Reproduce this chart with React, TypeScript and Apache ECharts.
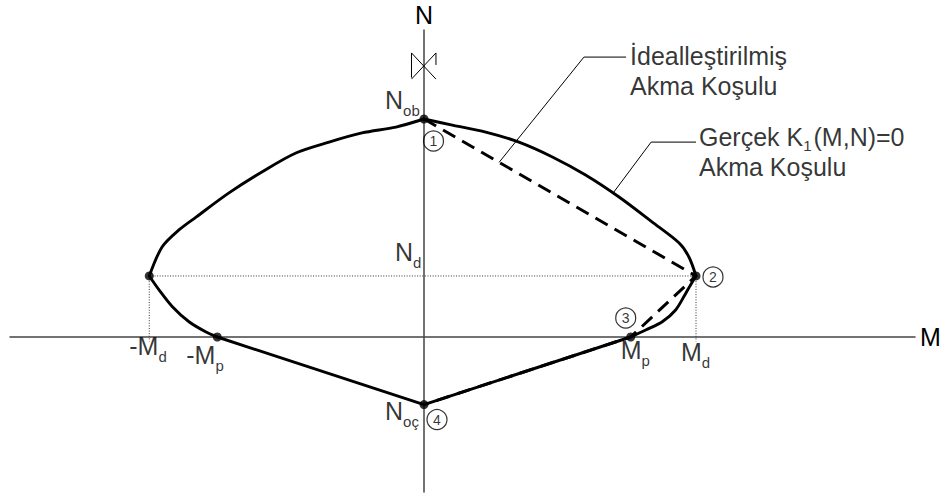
import { useEffect, useRef } from 'react';
import * as echarts from 'echarts';

// M–N yield diagram, normalised so that M_d = 1 and N_ob = 1.
const N_OB = 1.0;
const N_D = 0.28;
const N_OC = -0.31;
const M_D = 1.0;
const M_D_NEG = -1.01;
const M_P = 0.76;
const M_P_NEG = -0.76;

// Actual yield curve K1(M,N)=0, drawn piece by piece
const curveUpperRight = [
  [0, 1.0], [0.104, 0.972], [0.227, 0.94], [0.349, 0.894], [0.472, 0.826], [0.594, 0.743],
  [0.717, 0.642], [0.838, 0.528], [0.938, 0.431], [0.974, 0.367], [1.0, 0.28],
];
const curveLowerRight = [
  [1.0, 0.28], [0.98, 0.239], [0.962, 0.2], [0.925, 0.124], [0.876, 0.07], [0.815, 0.032], [0.76, 0],
];
const curveBottom = [[0.76, 0], [0, -0.31], [-0.76, 0]];
const curveLowerLeft = [
  [-0.76, 0], [-0.803, 0.024], [-0.864, 0.07], [-0.925, 0.139], [-0.974, 0.216], [-1.01, 0.28],
];
const curveUpperLeft = [
  [-1.01, 0.28], [-0.963, 0.413], [-0.901, 0.491], [-0.838, 0.55], [-0.717, 0.661], [-0.596, 0.757],
  [-0.471, 0.844], [-0.349, 0.894], [-0.228, 0.936], [-0.103, 0.963], [0, 1.0],
];

// Idealised (piecewise linear) yield condition through stages 1-2-3-4
const idealised = [[0, N_OB], [M_D, N_D], [M_P, 0], [0, N_OC]];

// Characteristic points
const keyPoints = [[0, N_OB], [M_D, N_D], [M_D_NEG, N_D], [M_P_NEG, 0], [M_P, 0], [0, N_OC]];

// Reference (dotted) lines for N_d and ±M_d
const guideLines = [
  [[M_D_NEG, N_D], [M_D, N_D]],
  [[M_D_NEG, N_D], [M_D_NEG, -0.02]],
  [[M_D, N_D], [M_D, -0.02]],
];

// Leader lines for the two callouts
const leaderIdeal = [[0.276, 0.801], [0.588, 1.284], [0.743, 1.284]];
const leaderActual = [[0.695, 0.66], [0.835, 0.894], [1.0, 0.894]];

// Small glyph on the N axis
const axisGlyph = [
  [[-0.046, 1.19], [-0.046, 1.303], [0.044, 1.183]],
  [[-0.046, 1.183], [0.044, 1.303], [0.044, 1.248]],
];

// Point labels: main text + subscript
const pointLabels = [
  { at: [0, N_OB], main: 'N', sub: 'ob', offset: [-39, -32] },
  { at: [0, N_D], main: 'N', sub: 'd', offset: [-29, -36] },
  { at: [M_D_NEG, 0], main: '-M', sub: 'd', offset: [-20, -4] },
  { at: [M_P_NEG, 0], main: '-M', sub: 'p', offset: [-31, 5] },
  { at: [M_P, 0], main: 'M', sub: 'p', offset: [-10, 0] },
  { at: [M_D, 0], main: 'M', sub: 'd', offset: [-15, 2] },
  { at: [0, N_OC], main: 'N', sub: 'oç', offset: [-39, -6] },
];

// Stage numbers in circles
const stageNumbers = ['1', '2', '3', '4'];
const stageAnchors = [[0, N_OB], [M_D, N_D], [M_P, 0], [0, N_OC]];
const stageOffsets = [[9.5, 22], [17, 1], [-5, -19], [13, 15]];

const W = 947;
const H = 498;
const ORIGIN_X = 424;
const ORIGIN_Y = 337;
const PX_M = 272;
const PX_N = 218;
const GRID = { left: 10, right: 32, top: 30, bottom: 6 };
const FONT = '"Liberation Sans", Arial, Helvetica, sans-serif';

const rich = {
  m: { fontSize: 25, lineHeight: 29, verticalAlign: 'top', fontFamily: FONT, color: '#000' },
  m30: { fontSize: 25, lineHeight: 30, verticalAlign: 'top', fontFamily: FONT, color: '#000' },
  s: { fontSize: 15, lineHeight: 12, padding: [15.5, 0, 0, 0], verticalAlign: 'top', fontFamily: FONT, color: '#000' },
  s30: { fontSize: 15, lineHeight: 12, padding: [14, 2, 0, 0], verticalAlign: 'top', fontFamily: FONT, color: '#000' },
};

function curveSeries(data: number[][], smooth: number | boolean) {
  return {
    type: 'line',
    data,
    smooth,
    symbol: 'none',
    silent: true,
    z: 4,
    lineStyle: { color: '#000', width: 2.9, cap: 'round', join: 'round' },
  };
}

function buildOption() {
  const xMin = -(ORIGIN_X - GRID.left) / PX_M;
  const xMax = (W - GRID.right - ORIGIN_X) / PX_M;
  const yMax = (ORIGIN_Y - GRID.top) / PX_N;
  const yMin = -(H - GRID.bottom - ORIGIN_Y) / PX_N;

  const axisCommon = {
    type: 'value',
    axisTick: { show: false },
    axisLabel: { show: false },
    splitLine: { show: false },
    axisLine: { show: true, onZero: true, lineStyle: { color: '#444', width: 1.5 } },
    nameLocation: 'end',
    nameTextStyle: { fontSize: 25, color: '#000', fontFamily: FONT },
  };

  return {
    animation: false,
    backgroundColor: '#fff',
    grid: { ...GRID, containLabel: false },
    xAxis: {
      ...axisCommon,
      min: xMin,
      max: xMax,
      name: 'M',
      nameGap: 5,
      nameTextStyle: { ...axisCommon.nameTextStyle, padding: [0, 0, 6, 0] },
    },
    yAxis: {
      ...axisCommon,
      min: yMin,
      max: yMax,
      name: 'N',
      nameGap: 3,
    },
    series: [
      {
        type: 'lines',
        coordinateSystem: 'cartesian2d',
        polyline: true,
        silent: true,
        z: 1,
        lineStyle: { color: '#333', width: 1, type: [1, 1.6], opacity: 1 },
        data: guideLines.map((coords) => ({ coords })),
      },
      {
        type: 'lines',
        coordinateSystem: 'cartesian2d',
        polyline: true,
        silent: true,
        z: 2,
        lineStyle: { color: '#000', width: 1, opacity: 1 },
        data: [leaderIdeal, leaderActual, ...axisGlyph].map((coords) => ({ coords })),
      },
      curveSeries(curveUpperRight, 0.3),
      curveSeries(curveLowerRight, 0.3),
      curveSeries(curveBottom, false),
      curveSeries(curveLowerLeft, 0.3),
      curveSeries(curveUpperLeft, 0.3),
      {
        type: 'line',
        data: idealised,
        symbol: 'none',
        silent: true,
        z: 5,
        lineStyle: { color: '#000', width: 3, type: [14, 8] },
      },
      {
        type: 'scatter',
        data: keyPoints,
        symbolSize: 9,
        silent: true,
        z: 6,
        itemStyle: { color: '#000' },
      },
      {
        type: 'scatter',
        silent: true,
        z: 7,
        symbol: 'circle',
        symbolSize: 20,
        itemStyle: { color: 'rgba(255,255,255,0)', borderColor: '#000', borderWidth: 1.2 },
        data: stageNumbers.map((n, i) => ({
          value: stageAnchors[i],
          symbolOffset: stageOffsets[i],
          label: {
            show: true,
            position: 'inside',
            formatter: n,
            fontSize: 14,
            fontFamily: FONT,
            color: '#000',
          },
        })),
      },
      {
        type: 'scatter',
        silent: true,
        z: 8,
        symbolSize: 1,
        itemStyle: { color: 'rgba(0,0,0,0)' },
        data: [
          ...pointLabels.map((l) => ({
            value: l.at,
            label: {
              show: true,
              position: 'inside',
              align: 'left',
              verticalAlign: 'top',
              offset: l.offset,
              formatter: `{m|${l.main}}{s|${l.sub}}`,
              rich,
            },
          })),
          {
            value: leaderIdeal[2],
            label: {
              show: true,
              position: 'inside',
              align: 'left',
              verticalAlign: 'top',
              offset: [4, -14],
              formatter: '{m30|İdealleştirilmiş}\n{m30|Akma Koşulu}',
              rich,
            },
          },
          {
            value: leaderActual[2],
            label: {
              show: true,
              position: 'inside',
              align: 'left',
              verticalAlign: 'top',
              offset: [3, -18],
              formatter: '{m30|Gerçek K}{s30|1}{m30|(M,N)=0}\n{m30|Akma Koşulu}',
              rich,
            },
          },
        ],
      },
    ],
  };
}

export default function App() {
  const ref = useRef<HTMLDivElement>(null);
  useEffect(() => {
    if (!ref.current) return;
    const chart = echarts.init(ref.current, undefined, { renderer: 'svg' });
    chart.setOption(buildOption() as any);
    return () => chart.dispose();
  }, []);
  return (
    <div
      ref={ref}
      style={{ position: 'absolute', left: 0, top: 0, width: W, height: H, background: '#fff' }}
    />
  );
}
